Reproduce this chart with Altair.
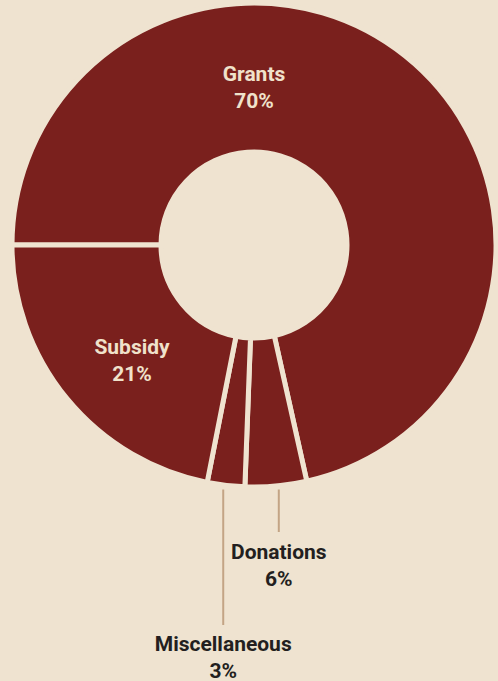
import math
import altair as alt
import pandas as pd

# ---- data ----
categories = ["Grants", "Donations", "Miscellaneous", "Subsidy"]
shares = [71.5, 4.1, 2.5, 21.9]          # drawn angular shares (%)
pct_labels = ["70%", "6%", "3%", "21%"]  # printed labels
inside = [True, False, False, True]

# ---- styling / layout ----
W, H = 498, 681
CX, CY = 254, 245
R_OUT, R_IN = 239.5, 95.5
SEP = 5
BG = "#efe3d0"
RED = "#7a201d"
LIGHT = "#f0e2cb"
DARK = "#231f20"
LEADER = "#c3a485"
FONT = "Roboto"
FS = 21
LH = 27
START = 1.5 * math.pi  # first slice starts at 9 o'clock

df = pd.DataFrame({"category": categories, "share": shares, "order": range(len(categories))})

# mid angles of slices (for leader lines)
tot = sum(shares)
mids = []
acc = 0.0
for s in shares:
    mids.append(START + 2 * math.pi * (acc + s / 2) / tot)
    acc += s

# label placement (first-line baselines)
label_pos = {
    "Grants": (None, 81),
    "Subsidy": (132, 353.5),
    "Donations": (None, 558.5),
    "Miscellaneous": (None, 651),
}
leader_x = {}
for c, m in zip(categories, mids):
    leader_x[c] = CX + R_OUT * math.sin(m)
leader_x["Donations"] += 3
leader_x["Miscellaneous"] -= 3
leader_x["Grants"] = CX

rows = []
for c, p, ins in zip(categories, pct_labels, inside):
    x, y = label_pos[c]
    if x is None:
        x = leader_x[c]
    rows.append({"x": x, "y": y, "text": f"{c}\n{p}", "inside": ins})
lab = pd.DataFrame(rows)

leaders = pd.DataFrame([
    {"x": leader_x["Donations"], "y": CY + R_OUT + 5, "y2": 532},
    {"x": leader_x["Miscellaneous"], "y": CY + R_OUT + 5, "y2": 625},
])

arc = alt.Chart(df).mark_arc(
    innerRadius=R_IN - SEP / 2, outerRadius=R_OUT + SEP / 2,
    stroke=BG, strokeWidth=SEP, color=RED,
).encode(
    theta=alt.Theta("share:Q", stack=True, scale=alt.Scale(range=[START, START + 2 * math.pi])),
    order=alt.Order("order:Q"),
    x=alt.value(CX), y=alt.value(CY),
)

rules = alt.Chart(leaders).mark_rule(color=LEADER, strokeWidth=2).encode(
    x=alt.X("x:Q", scale=None), y=alt.Y("y:Q", scale=None), y2="y2:Q",
)

text = alt.Chart(lab).mark_text(
    font=FONT, fontSize=FS, fontWeight="bold", lineBreak="\n",
    align="center", baseline="alphabetic", lineHeight=LH,
).encode(
    x=alt.X("x:Q", scale=None), y=alt.Y("y:Q", scale=None),
    text="text:N",
    color=alt.condition("datum.inside", alt.value(LIGHT), alt.value(DARK)),
)

chart = alt.layer(arc, rules, text).properties(
    width=W, height=H, background=BG, padding=0,
    autosize=alt.AutoSizeParams(type="none"),
).configure_view(stroke=None)

chart.save("out.html", embed_options={"renderer": "svg", "actions": False})
